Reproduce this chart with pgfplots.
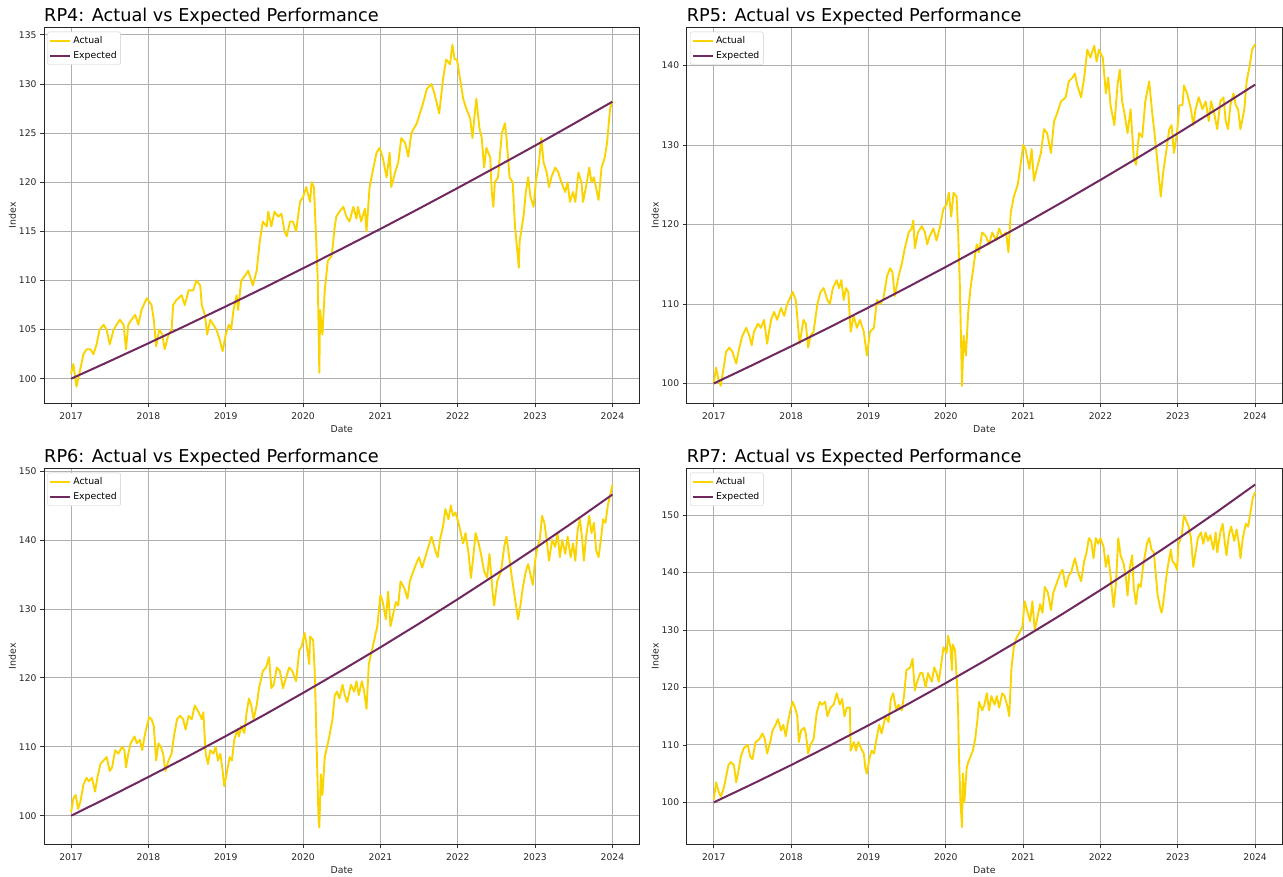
\documentclass[border=0pt]{standalone}
\usepackage{pgfplots}
\pgfplotsset{compat=1.18}
\usepackage{fontspec}
\setmainfont{DejaVu Sans}
\definecolor{actual}{RGB}{250,212,0}
\definecolor{expected}{RGB}{112,40,95}
\definecolor{gridc}{RGB}{176,176,176}
\pgfplotsset{rpstyle/.style={
  scale only axis, width=595.5pt, height=376.3pt, anchor=north west,
  xmin=2016.65, xmax=2024.35,
  xtick={2017,2018,2019,2020,2021,2022,2023,2024},
  /pgf/number format/1000 sep={},
  /pgf/number format/assume math mode=true,
  tick label style={font=\fontsize{9.2}{10}\selectfont, text=black!85},
  xticklabel style={yshift=-2pt},
  tick align=outside, major tick length=4pt,
  tick style={black!80, line width=0.8pt},
  xtick pos=left, ytick pos=left,
  grid=major, major grid style={gridc, line width=0.9pt},
  axis line style={black!85, line width=0.9pt},
  xlabel=Date, ylabel=Index,
  label style={font=\fontsize{9.4}{10}\selectfont, text=black!85},
  xlabel style={at={(0.5,0)}, anchor=center, yshift=-25.7pt},
  ylabel style={at={(0,0.5)}, anchor=center, yshift=31.7pt},
  title style={at={(0,1)}, anchor=base west, yshift=-0.9pt, inner sep=0pt, font=\fontsize{17.7}{20}\selectfont},
  legend style={at={(0,1)}, anchor=north west, xshift=3.3pt, yshift=-4.7pt,
    draw=black!20, fill=white, rounded corners=2pt,
    font=\fontsize{9.3}{11}\selectfont, inner xsep=2pt, inner ysep=2.5pt,
    row sep=2.5pt},
  legend cell align=left,
  legend image code/.code={\draw[##1, line width=1.8pt] (0pt,0pt) -- (20pt,0pt);},
  actual line/.style={actual, line width=1.9pt, line join=round},
  expected line/.style={expected, line width=2pt},
}}
\begin{document}
\begin{tikzpicture}
\useasboundingbox (0pt,0pt) rectangle (1283pt,-876pt);
% ---------------- RP4
\begin{axis}[rpstyle, at={(44pt,-27pt)}, title={RP4: Actual vs Expected Performance},
  ymin=97.5, ymax=135.8, ytick={100,105,110,115,120,125,130,135}]
\addplot[actual line] coordinates {
(2017.00,100.5)(2017.03,101.5)(2017.07,99.2)(2017.12,101)(2017.16,102.5)(2017.20,103)(2017.25,103)(2017.29,102.5)(2017.33,103.5)(2017.37,105)(2017.42,105.5)(2017.46,105)(2017.50,103.5)(2017.55,105)(2017.59,105.5)(2017.63,106)(2017.68,105.5)(2017.71,103)(2017.74,105.5)(2017.78,106)(2017.83,106.5)(2017.87,105.5)(2017.91,107)(2017.98,108.2)(2018.04,107.5)(2018.07,106)(2018.10,103.3)(2018.14,105)(2018.18,104.5)(2018.21,103)(2018.26,104.5)(2018.30,105)(2018.32,107.5)(2018.36,108)(2018.43,108.5)(2018.47,107.5)(2018.52,109)(2018.58,109)(2018.62,110)(2018.67,109.5)(2018.69,107.5)(2018.73,106.5)(2018.76,104.5)(2018.80,106)(2018.84,105.5)(2018.88,105)(2018.92,104)(2018.96,102.8)(2019.00,104.5)(2019.04,105.5)(2019.07,105)(2019.10,107)(2019.14,108.5)(2019.16,107)(2019.20,110)(2019.25,110.5)(2019.29,111)(2019.33,110)(2019.35,109.5)(2019.40,111)(2019.44,114)(2019.48,116)(2019.53,115.5)(2019.55,117)(2019.59,115.5)(2019.63,117)(2019.68,116.5)(2019.72,116.8)(2019.76,115)(2019.79,114.5)(2019.83,116)(2019.87,116)(2019.91,115)(2019.96,118)(2020.00,118.5)(2020.04,119.5)(2020.09,118)(2020.11,120)(2020.14,119.5)(2020.17,114)(2020.19,110)(2020.21,100.6)(2020.22,107)(2020.25,104.5)(2020.28,109)(2020.32,112)(2020.37,112.5)(2020.41,115.5)(2020.43,116.5)(2020.47,117)(2020.52,117.5)(2020.56,116.5)(2020.60,116)(2020.65,117.5)(2020.69,116.3)(2020.71,117.5)(2020.75,116)(2020.80,117.3)(2020.82,115)(2020.86,119.5)(2020.91,121.5)(2020.95,123)(2020.99,123.5)(2021.03,122.5)(2021.08,120.5)(2021.12,123)(2021.14,119.5)(2021.19,121)(2021.23,122)(2021.27,124.5)(2021.32,124)(2021.36,122.6)(2021.40,125)(2021.47,126)(2021.51,127)(2021.55,128)(2021.60,129.5)(2021.66,130)(2021.70,129)(2021.76,127)(2021.81,130.5)(2021.85,132.5)(2021.90,132)(2021.93,134)(2021.96,132.5)(2021.99,132.5)(2022.03,130.5)(2022.07,128.5)(2022.11,127.5)(2022.16,126.5)(2022.19,124.5)(2022.22,127)(2022.24,128.5)(2022.28,125.5)(2022.31,124.5)(2022.34,121.5)(2022.37,123.5)(2022.42,122.5)(2022.44,119)(2022.46,117.5)(2022.48,120)(2022.52,120.5)(2022.57,125)(2022.61,126)(2022.63,124.5)(2022.67,120.5)(2022.71,120)(2022.74,115.5)(2022.77,113)(2022.79,111.3)(2022.80,114)(2022.85,116.5)(2022.88,119)(2022.91,120.5)(2022.94,118.5)(2022.98,117.5)(2023.01,120)(2023.05,122)(2023.08,124.5)(2023.11,122)(2023.15,121)(2023.18,119.5)(2023.21,120.5)(2023.26,121.5)(2023.30,121)(2023.34,120)(2023.39,119)(2023.42,120)(2023.45,118)(2023.49,119)(2023.52,118)(2023.56,121)(2023.60,120)(2023.62,118)(2023.67,120)(2023.70,121.5)(2023.73,120)(2023.76,120.5)(2023.80,119)(2023.82,118.2)(2023.86,121.5)(2023.90,122.5)(2023.93,124)(2023.97,127.5)(2024.00,128.3)
};
\addplot[expected line] coordinates {
(2017.0,100)(2017.5,101.79)(2018.0,103.61)(2018.5,105.47)(2019.0,107.36)(2019.5,109.28)(2020.0,111.24)(2020.5,113.23)(2021.0,115.25)(2021.5,117.32)(2022.0,119.42)(2022.5,121.56)(2023.0,123.73)(2023.5,125.95)(2024.0,128.2)
};
\legend{Actual,Expected}
\end{axis}
% ---------------- RP5
\begin{axis}[rpstyle, at={(686.7pt,-27pt)}, title={RP5: Actual vs Expected Performance},
  ymin=97.5, ymax=144.85, ytick={100,110,120,130,140}]
\addplot[actual line] coordinates {
(2017.00,100)(2017.03,102)(2017.06,100.5)(2017.09,99.7)(2017.12,101.5)(2017.16,104)(2017.20,104.5)(2017.24,104)(2017.29,102.5)(2017.33,104.5)(2017.37,106)(2017.42,107)(2017.46,106)(2017.49,104.8)(2017.52,106.5)(2017.57,107.5)(2017.61,107)(2017.65,108)(2017.69,105)(2017.74,108)(2017.78,109)(2017.82,108)(2017.87,109.5)(2017.91,108.5)(2017.95,110)(2018.02,111.5)(2018.06,110.5)(2018.11,105)(2018.16,108)(2018.19,107.5)(2018.22,104.5)(2018.25,106)(2018.29,106.5)(2018.34,110)(2018.38,111.5)(2018.42,112)(2018.47,110.5)(2018.50,110)(2018.54,112)(2018.59,113)(2018.62,112)(2018.65,113)(2018.68,110.5)(2018.71,112)(2018.74,111.5)(2018.77,106.5)(2018.81,108.5)(2018.85,107)(2018.89,108)(2018.94,106.5)(2018.98,103.5)(2019.02,106.5)(2019.07,107)(2019.11,110.5)(2019.15,110)(2019.19,110.5)(2019.24,113.5)(2019.28,114.5)(2019.31,114)(2019.34,111)(2019.39,113.5)(2019.43,115)(2019.47,117)(2019.52,119)(2019.56,119.5)(2019.58,120.5)(2019.60,117)(2019.64,119)(2019.69,119.8)(2019.73,119)(2019.76,117.5)(2019.79,118.5)(2019.84,119.5)(2019.88,118)(2019.92,119.5)(2019.97,122)(2020.01,122.5)(2020.04,124)(2020.07,121)(2020.10,124)(2020.14,123.5)(2020.16,119)(2020.18,113)(2020.21,99.7)(2020.23,106)(2020.26,103.5)(2020.29,109)(2020.32,112)(2020.37,115.5)(2020.40,117.5)(2020.43,116.5)(2020.47,119)(2020.52,118.5)(2020.56,117.5)(2020.60,119)(2020.65,118)(2020.69,119.5)(2020.73,118.5)(2020.78,119)(2020.81,116.5)(2020.84,121.5)(2020.88,123.5)(2020.93,125)(2020.96,127)(2021.00,130)(2021.03,129.5)(2021.08,127)(2021.11,129.5)(2021.14,125.5)(2021.19,127.5)(2021.23,129)(2021.27,132)(2021.31,131.5)(2021.36,129)(2021.40,133)(2021.44,134)(2021.49,135.5)(2021.55,136)(2021.59,138)(2021.64,138.5)(2021.67,139)(2021.70,137.5)(2021.75,136)(2021.79,138.5)(2021.83,142)(2021.87,141)(2021.92,142.5)(2021.95,140.5)(2021.98,142)(2022.03,141)(2022.07,136.5)(2022.10,138.5)(2022.13,135)(2022.18,132.5)(2022.22,137.5)(2022.25,139.5)(2022.28,135.5)(2022.31,134)(2022.35,131.5)(2022.39,134.5)(2022.43,128.5)(2022.46,127.5)(2022.50,131.5)(2022.54,131)(2022.58,135.5)(2022.63,138)(2022.67,134)(2022.71,130.5)(2022.74,127.5)(2022.78,123.5)(2022.81,126.5)(2022.84,128.5)(2022.89,132)(2022.92,132.5)(2022.95,129)(2022.99,131.5)(2023.02,135)(2023.06,135)(2023.08,137.5)(2023.12,136.5)(2023.17,134.5)(2023.20,132.5)(2023.23,134.5)(2023.27,136)(2023.32,134.5)(2023.36,135.5)(2023.40,133)(2023.43,135.5)(2023.47,134)(2023.51,132)(2023.55,135.5)(2023.59,136)(2023.62,133)(2023.65,132)(2023.68,135)(2023.72,136.5)(2023.75,135)(2023.78,134.5)(2023.81,132)(2023.86,134.5)(2023.89,138)(2023.93,140)(2023.96,142)(2024.00,142.7)
};
\addplot[expected line] coordinates {
(2017.0,100)(2017.5,102.31)(2018.0,104.67)(2018.5,107.08)(2019.0,109.55)(2019.5,112.08)(2020.0,114.66)(2020.5,117.31)(2021.0,120.01)(2021.5,122.78)(2022.0,125.61)(2022.5,128.50)(2023.0,131.47)(2023.5,134.50)(2024.0,137.60)
};
\legend{Actual,Expected}
\end{axis}
% ---------------- RP6
\begin{axis}[rpstyle, at={(44pt,-468pt)}, title={RP6: Actual vs Expected Performance},
  ymin=95.85, ymax=150.45, ytick={100,110,120,130,140,150}]
\addplot[actual line] coordinates {
(2017.00,100.5)(2017.03,102.5)(2017.06,103)(2017.09,101)(2017.12,102)(2017.16,104.5)(2017.20,105.5)(2017.23,105)(2017.27,105.5)(2017.31,103.5)(2017.34,105.5)(2017.38,107.5)(2017.42,108)(2017.46,108.5)(2017.50,106.5)(2017.53,107)(2017.57,109.5)(2017.61,109)(2017.66,110)(2017.69,109.5)(2017.71,107)(2017.74,109)(2017.77,110.5)(2017.82,111.5)(2017.85,110.5)(2017.89,111)(2017.92,109.5)(2017.95,111.5)(2017.98,113)(2018.01,114.3)(2018.04,114)(2018.07,113)(2018.10,108)(2018.13,110.5)(2018.16,110)(2018.19,109)(2018.22,106.5)(2018.26,108)(2018.30,109)(2018.33,111.5)(2018.37,114)(2018.41,114.5)(2018.45,114)(2018.48,112.5)(2018.52,114.5)(2018.56,114)(2018.60,116)(2018.65,115)(2018.69,114)(2018.71,115)(2018.74,109)(2018.77,107.5)(2018.80,109.5)(2018.84,109)(2018.87,110)(2018.90,108)(2018.93,109)(2018.96,106.5)(2018.98,104.3)(2019.01,106)(2019.05,108.5)(2019.08,108)(2019.11,111)(2019.15,112.5)(2019.17,111.5)(2019.20,113)(2019.24,112)(2019.27,115)(2019.30,117)(2019.33,116)(2019.36,114)(2019.40,116)(2019.43,118.5)(2019.48,121)(2019.52,121.5)(2019.56,123)(2019.59,118.5)(2019.62,119)(2019.66,121.5)(2019.70,121)(2019.74,118.5)(2019.78,120)(2019.82,121.5)(2019.86,121)(2019.91,119.5)(2019.95,124)(2019.98,124.5)(2020.02,126.5)(2020.05,124.5)(2020.08,122)(2020.09,126)(2020.13,125.5)(2020.15,121)(2020.16,117)(2020.18,108)(2020.20,99.5)(2020.21,98.3)(2020.23,106)(2020.25,103)(2020.28,108.5)(2020.31,110)(2020.34,111.5)(2020.38,114)(2020.41,117.5)(2020.44,118)(2020.47,117)(2020.51,119)(2020.54,117.5)(2020.57,116.5)(2020.62,119)(2020.66,118)(2020.69,119.5)(2020.72,117.5)(2020.76,119.5)(2020.79,118)(2020.82,115.5)(2020.85,122)(2020.89,124)(2020.92,125.5)(2020.96,127.5)(2021.00,132)(2021.03,131)(2021.07,128.5)(2021.10,132.5)(2021.13,127.5)(2021.16,129)(2021.20,131)(2021.23,130.5)(2021.26,134)(2021.31,133)(2021.35,131.5)(2021.38,134)(2021.41,135)(2021.46,136.5)(2021.50,137.5)(2021.54,136)(2021.58,137.5)(2021.62,139)(2021.66,140.5)(2021.71,138.5)(2021.74,137.5)(2021.77,140)(2021.81,142)(2021.84,144.5)(2021.88,143)(2021.91,145)(2021.94,143.5)(2021.97,144)(2022.01,142.5)(2022.04,141)(2022.07,139.5)(2022.10,141)(2022.14,138)(2022.17,134.5)(2022.20,137.5)(2022.23,141)(2022.27,139.5)(2022.30,138)(2022.34,135.5)(2022.38,134.5)(2022.41,138)(2022.45,132.5)(2022.47,130.5)(2022.51,134)(2022.56,135.5)(2022.60,139)(2022.63,140.5)(2022.66,138)(2022.70,134.5)(2022.74,131.5)(2022.78,128.5)(2022.81,130.5)(2022.84,133)(2022.88,135.5)(2022.91,136.5)(2022.94,135)(2022.97,133.5)(2023.00,137)(2023.03,139)(2023.06,140)(2023.09,143.5)(2023.12,142.5)(2023.15,140)(2023.18,137)(2023.22,140)(2023.26,139)(2023.29,141)(2023.32,137.5)(2023.35,140)(2023.39,138)(2023.42,140.5)(2023.46,137.5)(2023.49,139.5)(2023.52,137)(2023.55,141.5)(2023.58,143)(2023.61,140)(2023.63,137)(2023.66,140.5)(2023.70,143.5)(2023.73,141)(2023.76,142.5)(2023.79,138.5)(2023.82,137.5)(2023.85,140)(2023.88,143)(2023.91,142.5)(2023.94,145)(2023.97,146.5)(2024.00,148)
};
\addplot[expected line] coordinates {
(2017.0,100)(2017.5,102.77)(2018.0,105.62)(2018.5,108.54)(2019.0,111.55)(2019.5,114.64)(2020.0,117.82)(2020.5,121.08)(2021.0,124.43)(2021.5,127.88)(2022.0,131.42)(2022.5,135.06)(2023.0,138.80)(2023.5,142.65)(2024.0,146.6)
};
\legend{Actual,Expected}
\end{axis}
% ---------------- RP7
\begin{axis}[rpstyle, at={(686.7pt,-468pt)}, title={RP7: Actual vs Expected Performance},
  ymin=92.7, ymax=158.2, ytick={100,110,120,130,140,150}]
\addplot[actual line] coordinates {
(2017.00,100.5)(2017.03,103.5)(2017.06,102)(2017.09,101)(2017.13,102.5)(2017.16,104.5)(2017.19,106.5)(2017.22,107)(2017.26,106.5)(2017.29,103.5)(2017.32,105.5)(2017.35,108)(2017.39,109.5)(2017.44,110)(2017.47,108)(2017.50,107.5)(2017.54,110.5)(2017.59,111)(2017.63,112)(2017.66,111)(2017.69,108.5)(2017.73,110.5)(2017.76,112.5)(2017.80,113.5)(2017.83,114.5)(2017.87,112.5)(2017.90,113.5)(2017.93,111.5)(2017.96,114)(2017.99,116)(2018.02,117.5)(2018.05,116.5)(2018.08,115)(2018.10,110.5)(2018.13,112.5)(2018.17,113)(2018.19,112)(2018.22,108.5)(2018.25,110)(2018.29,111)(2018.33,115.5)(2018.37,117.5)(2018.40,117)(2018.44,117.5)(2018.47,115)(2018.51,116.5)(2018.55,117)(2018.59,119)(2018.63,117)(2018.66,118)(2018.69,115)(2018.72,116.5)(2018.76,116.5)(2018.77,109)(2018.81,110.5)(2018.84,109)(2018.87,110.5)(2018.90,109.5)(2018.94,108.5)(2018.96,106)(2018.98,105)(2019.01,107.5)(2019.04,109)(2019.07,108.5)(2019.11,111.5)(2019.14,113.5)(2019.17,112)(2019.22,115)(2019.26,114)(2019.29,118)(2019.32,119)(2019.36,116)(2019.39,117)(2019.43,116)(2019.46,118.5)(2019.49,123)(2019.54,123.5)(2019.57,125)(2019.60,119.5)(2019.63,121)(2019.67,122.5)(2019.70,122.5)(2019.74,120)(2019.77,122.5)(2019.82,121)(2019.85,123.5)(2019.88,122.5)(2019.91,121)(2019.94,124)(2019.97,127)(2020.01,126)(2020.03,129)(2020.06,127)(2020.08,123)(2020.09,127.5)(2020.12,126.5)(2020.15,119.5)(2020.16,115.5)(2020.17,108)(2020.19,100)(2020.21,95.7)(2020.22,105)(2020.24,100)(2020.27,106)(2020.29,107)(2020.35,109)(2020.38,111)(2020.41,114.5)(2020.43,117.5)(2020.47,116)(2020.50,117)(2020.53,119)(2020.56,116)(2020.59,118.5)(2020.63,117)(2020.66,118.5)(2020.69,116.5)(2020.73,119)(2020.76,118.5)(2020.80,116.5)(2020.82,115)(2020.85,123.5)(2020.88,127)(2020.91,128.5)(2020.95,129.5)(2020.99,130.5)(2021.02,135)(2021.06,133)(2021.09,131.5)(2021.12,135)(2021.15,130)(2021.19,132.5)(2021.22,134.5)(2021.25,133)(2021.28,137.5)(2021.32,136.5)(2021.36,133.5)(2021.39,136.5)(2021.43,138)(2021.47,139.5)(2021.51,140.5)(2021.55,137.5)(2021.59,139.5)(2021.62,140)(2021.67,142.5)(2021.71,140)(2021.75,138.5)(2021.79,142)(2021.82,143.5)(2021.85,146)(2021.88,145.5)(2021.91,142.5)(2021.94,146)(2021.97,145)(2022.00,146)(2022.04,144.5)(2022.07,141)(2022.10,143)(2022.13,139.5)(2022.17,134)(2022.20,138)(2022.23,146)(2022.26,143)(2022.30,141.5)(2022.33,139)(2022.35,136)(2022.38,141)(2022.41,143)(2022.43,137.5)(2022.46,134.5)(2022.49,138)(2022.52,137.5)(2022.55,141)(2022.60,145)(2022.63,146)(2022.66,144)(2022.69,143.5)(2022.71,140.5)(2022.74,136)(2022.77,134)(2022.79,133)(2022.81,134.5)(2022.84,138)(2022.87,141)(2022.91,144)(2022.93,142)(2022.96,141.5)(2022.99,140.5)(2023.01,145)(2023.05,146.5)(2023.08,150)(2023.11,149)(2023.14,148)(2023.17,146)(2023.20,141)(2023.23,143.5)(2023.26,146)(2023.30,147)(2023.33,145)(2023.36,147)(2023.39,145.5)(2023.42,146.5)(2023.46,144)(2023.49,147)(2023.51,143.5)(2023.55,147)(2023.58,148.5)(2023.61,145)(2023.63,143)(2023.66,146.5)(2023.69,148)(2023.73,145.5)(2023.76,147.5)(2023.79,145)(2023.81,142.5)(2023.84,146)(2023.88,148.5)(2023.91,148)(2023.94,150.5)(2023.97,153)(2024.00,154)
};
\addplot[expected line] coordinates {
(2017.0,100)(2017.5,103.20)(2018.0,106.49)(2018.5,109.89)(2019.0,113.41)(2019.5,117.03)(2020.0,120.77)(2020.5,124.63)(2021.0,128.61)(2021.5,132.72)(2022.0,136.96)(2022.5,141.33)(2023.0,145.85)(2023.5,150.51)(2024.0,155.32)
};
\legend{Actual,Expected}
\end{axis}
\end{tikzpicture}
\end{document}
